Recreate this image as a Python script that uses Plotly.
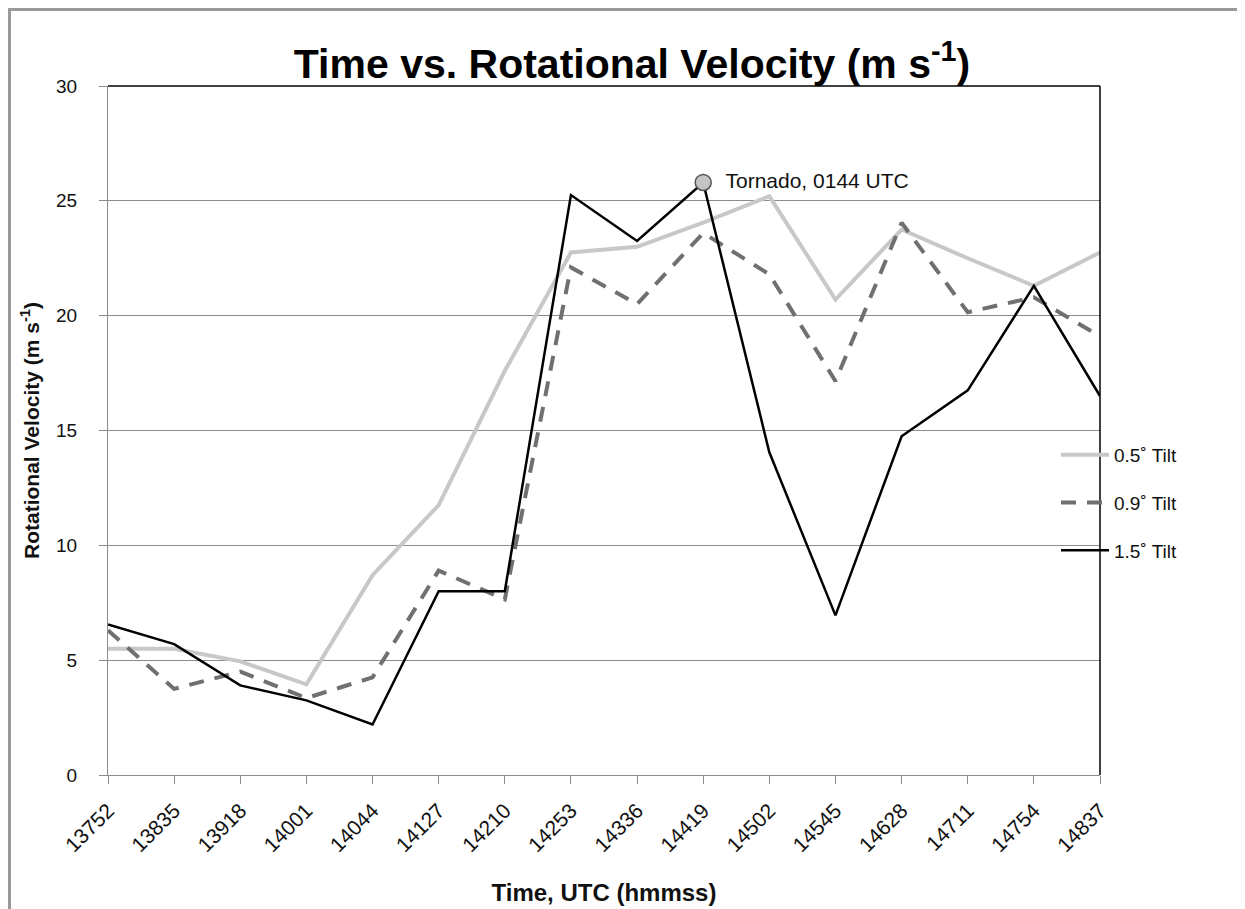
import plotly.graph_objects as go

times = ["13752", "13835", "13918", "14001", "14044", "14127", "14210", "14253",
         "14336", "14419", "14502", "14545", "14628", "14711", "14754", "14837"]
tilt_05 = [5.5, 5.5, 4.95, 3.95, 8.7, 11.75, 17.6, 22.75, 23.0, 24.05, 25.2, 20.7, 23.75, 22.5, 21.3, 22.75]
tilt_09 = [6.3, 3.75, 4.5, 3.35, 4.25, 8.9, 7.65, 22.1, 20.5, 23.6, 21.8, 17.15, 24.05, 20.15, 20.8, 19.1]
tilt_15 = [6.55, 5.7, 3.9, 3.25, 2.2, 8.0, 8.0, 25.25, 23.25, 25.8, 14.05, 6.95, 14.75, 16.75, 21.3, 16.5]
tornado_time = ["14419"]
tornado_val = [25.8]
tornado_label = ["  Tornado, 0144 UTC"]

FONT = "Liberation Sans, Arial, sans-serif"

fig = go.Figure()
fig.add_trace(go.Scatter(x=times, y=tilt_05, mode="lines", name="0.5˚ Tilt", legendgroup="a",
                         line=dict(color="#c8c8c8", width=4)))
fig.add_trace(go.Scatter(x=times, y=tilt_09, mode="lines", name="0.9˚ Tilt", legendgroup="b",
                         line=dict(color="#707070", width=4, dash="15px,11px")))
fig.add_trace(go.Scatter(x=times, y=tilt_15, mode="lines", name="1.5˚ Tilt", legendgroup="c",
                         line=dict(color="#000000", width=2.5)))
fig.add_trace(go.Scatter(x=tornado_time, y=tornado_val, mode="markers+text",
                         text=tornado_label, textposition="middle right",
                         textfont=dict(size=21, color="#111", family=FONT),
                         marker=dict(size=16, color="#c4c4c4", line=dict(color="#555", width=1.5)),
                         showlegend=False, cliponaxis=False))

# figure is drawn 8px inside the page (body margin); positions below are page pixels
OFF = 8
W, H = 1245, 909
L, T = 108 - OFF, 86 - OFF
R = W - (1100 - OFF)
B = H - (775 - OFF)
pw, ph = W - L - R, H - T - B
fx = lambda px: (px - OFF - L) / pw
fy = lambda py: (H - B - (py - OFF)) / ph

fig.update_layout(
    width=W, height=H,
    margin=dict(l=L, r=R, t=T, b=B),
    paper_bgcolor="white", plot_bgcolor="white",
    title=dict(text="<b>Time vs. Rotational Velocity (m s<sup>-1</sup>)</b>",
               x=(632 - OFF) / W, xanchor="center", y=1 - (64 - OFF) / H, yanchor="middle",
               font=dict(family=FONT, size=41, color="#000")),
    showlegend=True,
    legend=dict(x=fx(1056), xanchor="left", y=fy(436), yanchor="top",
                bgcolor="rgba(0,0,0,0)", tracegroupgap=20,
                font=dict(family=FONT, size=19, color="#111"),
                itemwidth=48),
    xaxis=dict(type="category", range=[0, len(times) - 1],
               showgrid=False, showline=True, linecolor="#8c8c8c", linewidth=1,
               ticks="outside", ticklen=8, tickcolor="#8c8c8c", tickangle=-45,
               ticklabelstandoff=6,
               tickfont=dict(family=FONT, size=21, color="#111"),
               title=dict(text="<b>Time, UTC (hmmss)</b>", standoff=28,
                          font=dict(family=FONT, size=24, color="#111"))),
    yaxis=dict(range=[0, 30], dtick=5, showgrid=True, gridcolor="#8c8c8c", gridwidth=1,
               zeroline=False, showline=True, linecolor="#8c8c8c", linewidth=1,
               ticks="outside", ticklen=8, tickcolor="#8c8c8c", ticklabelstandoff=18,
               tickfont=dict(family=FONT, size=19, color="#111"),
               title=dict(text="<b>Rotational Velocity (m s<sup>-1</sup>)</b>", standoff=10,
                          font=dict(family=FONT, size=21, color="#111"))),
    shapes=[
        dict(type="line", xref="paper", yref="paper", x0=0, x1=1, y0=1, y1=1,
             line=dict(color="#000", width=1.5)),
        dict(type="line", xref="paper", yref="paper", x0=1, x1=1, y0=0, y1=1,
             line=dict(color="#000", width=1.5)),
        dict(type="line", xref="paper", yref="paper", x0=fx(9.5), x1=fx(9.5), y0=fy(9), y1=fy(925),
             line=dict(color="#999", width=3)),
        dict(type="line", xref="paper", yref="paper", x0=fx(8), x1=fx(1260), y0=fy(9.5), y1=fy(9.5),
             line=dict(color="#999", width=3)),
    ],
)

fig.write_html("out.html")
